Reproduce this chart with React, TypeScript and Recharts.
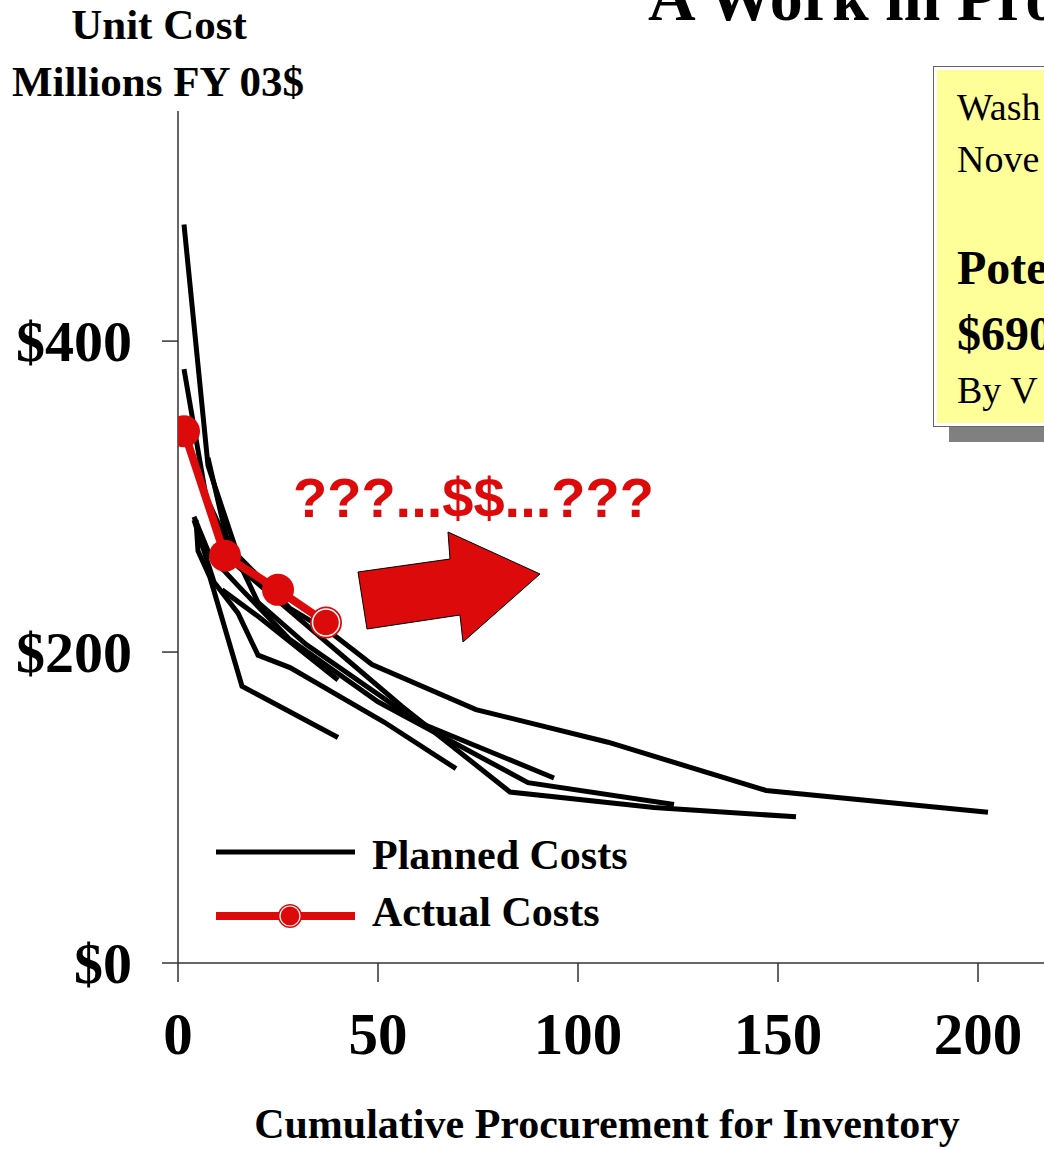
import React from "react";
import { LineChart, Line, XAxis, YAxis } from "recharts";

// planned cost curves: [cumulative buy, unit cost $M]
const planned1 = [[1.5, 475], [7.5, 320], [15, 262], [28, 228], [39, 211], [48.5, 192], [74.5, 163], [107.5, 142], [147, 111], [202.5, 97]];
const planned2 = [[1.5, 382], [7, 300], [15, 255], [30, 222], [56, 165], [83, 110], [119, 100], [154.5, 94]];
const planned3 = [[4, 287], [8, 262], [16, 240], [28, 208], [50, 168], [87.5, 116], [124, 102]];
const planned4 = [[7.5, 325], [12, 275], [20, 232], [32, 205], [60, 155], [94, 119]];
const planned5 = [[4, 285], [9, 245], [15, 225], [20, 198], [28, 190], [51.5, 155], [69.5, 125]];
const planned6 = [[4.5, 285], [5, 265], [8, 248], [16, 178], [40, 145]];
const planned7 = [[11, 240], [20, 223], [40, 182]];

const actual = [[1.5, 342], [11.75, 262], [25, 240], [37, 219]];

const xTicks = [0, 50, 100, 150, 200];
const yTicks = [0, 200, 400];
const plannedSeries = [planned1, planned2, planned3, planned4, planned5, planned6, planned7];

const toRows = (pts: number[][]) => pts.map(([x, y]) => ({ x, y }));

const serif = "'Liberation Serif', 'Times New Roman', serif";
const red = "#dc0a0a";

const YTick = (props: any) => {
  const { x, y, payload } = props;
  return (
    <text x={x} y={y} dy={20} textAnchor="end" fontFamily={serif} fontWeight="bold" fontSize={58} fill="#000">
      ${payload.value}
    </text>
  );
};

const XTick = (props: any) => {
  const { x, y, payload } = props;
  return (
    <text x={x} y={y} dy={70} textAnchor="middle" fontFamily={serif} fontWeight="bold" fontSize={59} fill="#000">
      {payload.value}
    </text>
  );
};

const ActualDot = (props: any) => {
  const { cx, cy, index } = props;
  if (index === actual.length - 1) {
    return (
      <g key={`d${index}`}>
        <circle cx={cx} cy={cy} r={16} fill={red} />
        <circle cx={cx} cy={cy} r={13.5} fill="none" stroke="#fff" strokeWidth={1.5} />
      </g>
    );
  }
  return <circle key={`d${index}`} cx={cx} cy={cy} r={16} fill={red} />;
};

export default function App() {
  return (
    <div style={{ position: "absolute", left: 0, top: 0, width: 1044, height: 1149, overflow: "hidden", background: "#fff" }}>
      <LineChart width={1060} height={1149} margin={{ top: 111, right: 2, bottom: 86, left: 8 }}>
        <XAxis
          type="number"
          dataKey="x"
          domain={[0, 220]}
          ticks={xTicks}
          allowDataOverflow
          tick={<XTick />}
          tickSize={19}
          height={100}
          stroke="#333"
          strokeWidth={1.5}
        />
        <YAxis
          type="number"
          dataKey="y"
          domain={[0, 548]}
          ticks={yTicks}
          tick={<YTick />}
          tickSize={16}
          tickMargin={30}
          width={170}
          stroke="#333"
          strokeWidth={1.5}
        />
        {plannedSeries.map((s, i) => (
          <Line
            key={`p${i}`}
            data={toRows(s)}
            dataKey="y"
            type="linear"
            stroke="#000"
            strokeWidth={5}
            dot={false}
            isAnimationActive={false}
          />
        ))}
        <Line
          data={toRows(actual)}
          dataKey="y"
          type="linear"
          stroke={red}
          strokeWidth={8}
          dot={<ActualDot />}
          isAnimationActive={false}
        />
      </LineChart>

      <svg width={1044} height={1149} style={{ position: "absolute", left: 0, top: 0, pointerEvents: "none" }}>
        {/* title, cut off at the top */}
        <text x={648} y={20} fontFamily={serif} fontWeight="bold" fontSize={66} fill="#000">A Work in Progress</text>
        <text x={159} y={39} textAnchor="middle" fontFamily={serif} fontWeight="bold" fontSize={43}>Unit Cost</text>
        <text x={158} y={96} textAnchor="middle" fontFamily={serif} fontWeight="bold" fontSize={43}>Millions FY 03$</text>
        <text x={607} y={1138} textAnchor="middle" fontFamily={serif} fontWeight="bold" fontSize={42}>Cumulative Procurement for Inventory</text>

        {/* callout box */}
        <rect x={949} y={420} width={100} height={22} fill="#808080" />
        <rect x={933.5} y={66.5} width={120} height={360} fill="#fff" stroke="#666" strokeWidth={1} />
        <rect x={937} y={70} width={120} height={353} fill="#ffff99" />
        <text x={957} y={120} fontFamily={serif} fontSize={38}>Wash</text>
        <text x={957} y={172} fontFamily={serif} fontSize={38}>Nove</text>
        <text x={957} y={284} fontFamily={serif} fontWeight="bold" fontSize={48}>Pote</text>
        <text x={957} y={350} fontFamily={serif} fontWeight="bold" fontSize={48}>$690</text>
        <text x={957} y={403} fontFamily={serif} fontSize={38}>By V</text>

        {/* red annotation */}
        <text x={293} y={517} fontFamily="'Liberation Sans', Arial, sans-serif" fontWeight="bold" fontSize={56} fill={red}>???...$$...???</text>
        <polygon
          points="358,572 450,559 448,532 540,574 463,642 460,615 367,629"
          fill={red}
          stroke="#000"
          strokeWidth={1}
        />

        {/* legend */}
        <line x1={216} y1={852} x2={355} y2={852} stroke="#000" strokeWidth={5} />
        <text x={372} y={869} fontFamily={serif} fontWeight="bold" fontSize={42}>Planned Costs</text>
        <line x1={216} y1={916} x2={355} y2={916} stroke={red} strokeWidth={8} />
        <circle cx={290} cy={916} r={12} fill={red} />
        <circle cx={290} cy={916} r={10} fill="none" stroke="#fff" strokeWidth={1.2} />
        <text x={372} y={926} fontFamily={serif} fontWeight="bold" fontSize={42}>Actual Costs</text>
      </svg>
    </div>
  );
}
